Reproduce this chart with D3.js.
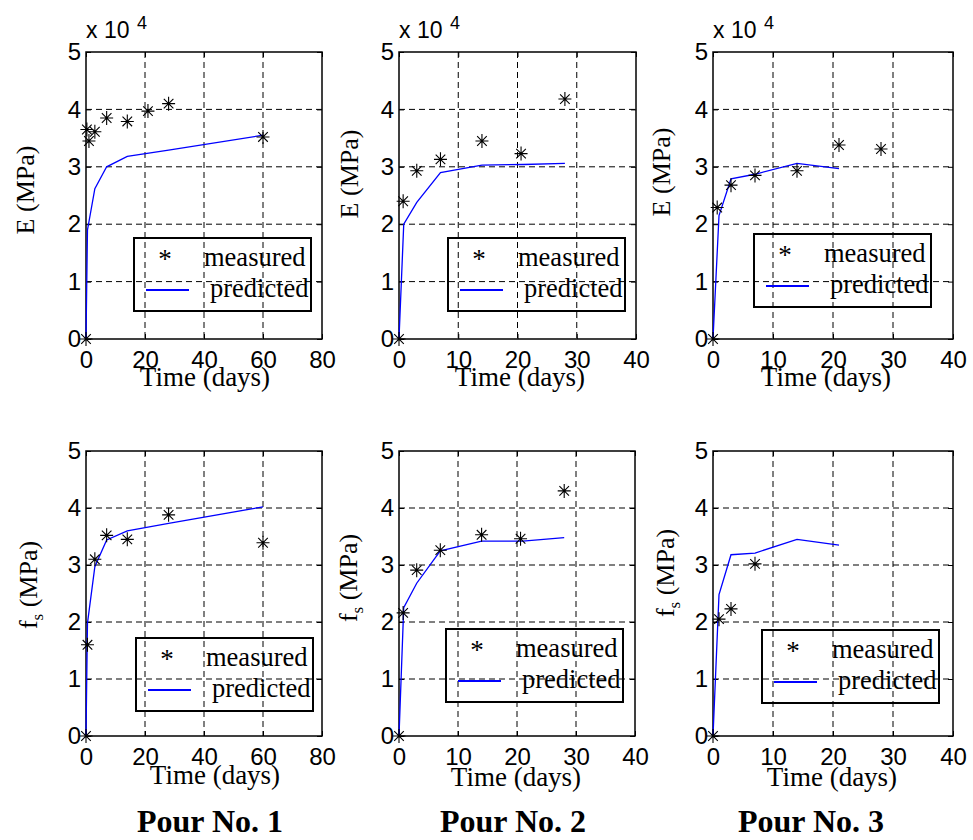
<!DOCTYPE html>
<html>
<head>
<meta charset="utf-8">
<script src="https://cdn.jsdelivr.net/npm/d3@7"></script>
<style>
  body { margin: 0; background: #fff; }
  .tick text { font-family: "Liberation Sans", Arial, sans-serif; font-size: 24px; fill: #000; }
  .tick line { stroke: #000; }
  .serif { font-family: "Liberation Serif", "Times New Roman", serif; fill: #000; }
</style>
</head>
<body>
<script>
// Pour No. 1 (E in 10^4 MPa, fs in MPa)
var measDays1 = [0, 0.3, 1, 3, 7, 14, 21, 28, 60];
var measE1 = [0, 3.65, 3.45, 3.61, 3.85, 3.79, 3.97, 4.10, 3.52];
var predDays1 = [0, 0.5, 3, 7, 14, 28, 60];
var predE1 = [0, 1.9, 2.62, 3.0, 3.18, 3.29, 3.55];
var measFsDays1 = [0, 0.5, 3, 7, 14, 28, 60];
var measFs1 = [0, 1.6, 3.1, 3.52, 3.45, 3.88, 3.39];
var predFs1 = [0, 1.98, 2.97, 3.44, 3.60, 3.73, 4.02];

// Pour No. 2
var measDays2 = [0, 0.7, 3, 7, 14, 20.6, 28];
var measE2 = [0, 2.40, 2.93, 3.13, 3.45, 3.23, 4.18];
var predDays2 = [0, 0.8, 3, 7, 14, 21, 28];
var predE2 = [0, 2.0, 2.38, 2.9, 3.03, 3.04, 3.06];
var measFs2 = [0, 2.16, 2.91, 3.26, 3.53, 3.46, 4.30];
var predFs2 = [0, 2.25, 2.68, 3.25, 3.42, 3.42, 3.48];

// Pour No. 3
var measDays3 = [0, 0.7, 3, 7, 14, 21, 28];
var measE3 = [0, 2.29, 2.68, 2.85, 2.93, 3.38, 3.31];
var predDays3 = [0, 1, 3, 7, 14, 21];
var predE3 = [0, 2.15, 2.79, 2.87, 3.06, 2.97];
var measFsDays3 = [0, 1, 3, 7];
var measFs3 = [0, 2.05, 2.23, 3.02];
var predFs3 = [0, 2.48, 3.18, 3.21, 3.45, 3.35];

var xTicks80 = [0, 20, 40, 60, 80];
var xTicks40 = [0, 10, 20, 30, 40];
var yTicks = [0, 1, 2, 3, 4, 5];
var titles = ["Pour No. 1", "Pour No. 2", "Pour No. 3"];

function zip(xs, ys) { return xs.map(function (d, i) { return [d, ys[i]]; }); }

var panels = [
  { l: 86, r: 322, t: 52, b: 339, xTicks: xTicks80, meas: zip(measDays1, measE1), pred: zip(predDays1, predE1),
    yLab: "E", ylx: 34, yly: 190, xlx: 205, xly: 386, leg: [134, 238], exp: true },
  { l: 399, r: 636, t: 52, b: 339, xTicks: xTicks40, meas: zip(measDays2, measE2), pred: zip(predDays2, predE2),
    yLab: "E", ylx: 358, yly: 174, xlx: 520, xly: 386, leg: [448, 238], exp: true },
  { l: 713, r: 953, t: 52, b: 339, xTicks: xTicks40, meas: zip(measDays3, measE3), pred: zip(predDays3, predE3),
    yLab: "E", ylx: 670, yly: 172, xlx: 826, xly: 386, leg: [754, 234], exp: true },
  { l: 86, r: 322, t: 451, b: 736, xTicks: xTicks80, meas: zip(measFsDays1, measFs1), pred: zip(predDays1, predFs1),
    yLab: "fs", ylx: 37, yly: 585, xlx: 215, xly: 784, leg: [136, 638], exp: false },
  { l: 399, r: 635, t: 451, b: 736, xTicks: xTicks40, meas: zip(measDays2, measFs2), pred: zip(predDays2, predFs2),
    yLab: "fs", ylx: 357, yly: 578, xlx: 516, xly: 786, leg: [446, 629], exp: false },
  { l: 713, r: 953, t: 451, b: 736, xTicks: xTicks40, meas: zip(measFsDays3, measFs3), pred: zip(predDays3, predFs3),
    yLab: "fs", ylx: 674, yly: 573, xlx: 832, xly: 786, leg: [762, 630], exp: false }
];

var svg = d3.select("body").append("svg")
    .attr("width", 973)
    .attr("height", 840);
svg.append("rect").attr("width", 973).attr("height", 840).attr("fill", "#fff");

var starPath = "M-6.5,0H6.5M0,-7V7M-4.8,-4.8L4.8,4.8M-4.8,4.8L4.8,-4.8";

panels.forEach(function (p) {
    var x = d3.scaleLinear().domain([p.xTicks[0], p.xTicks[p.xTicks.length - 1]]).range([p.l, p.r]);
    var y = d3.scaleLinear().domain([0, 5]).range([p.b, p.t]);
    var g = svg.append("g");

    // dashed grid
    g.selectAll("line.vgrid")
        .data(p.xTicks.slice(1, -1))
        .enter().append("line")
        .attr("x1", function (d) { return x(d); }).attr("x2", function (d) { return x(d); })
        .attr("y1", p.t).attr("y2", p.b)
        .attr("stroke", "#000").attr("stroke-width", 1).attr("stroke-dasharray", "6,4");
    g.selectAll("line.hgrid")
        .data(yTicks.slice(1, -1))
        .enter().append("line")
        .attr("y1", function (d) { return y(d); }).attr("y2", function (d) { return y(d); })
        .attr("x1", p.l).attr("x2", p.r)
        .attr("stroke", "#000").attr("stroke-width", 1).attr("stroke-dasharray", "6,4");

    // axes with inward ticks
    g.append("g").attr("transform", "translate(0," + p.b + ")")
        .call(d3.axisBottom(x).tickValues(p.xTicks).tickFormat(d3.format("d"))
            .tickSize(-5).tickSizeOuter(0).tickPadding(12));
    g.append("g").attr("transform", "translate(" + p.l + ",0)")
        .call(d3.axisLeft(y).tickValues(yTicks).tickFormat(d3.format("d"))
            .tickSize(-5).tickSizeOuter(0).tickPadding(5));
    g.append("g").attr("transform", "translate(0," + p.t + ")")
        .call(d3.axisTop(x).tickValues(p.xTicks).tickSize(-5).tickSizeOuter(0).tickFormat(""));
    g.append("g").attr("transform", "translate(" + p.r + ",0)")
        .call(d3.axisRight(y).tickValues(yTicks).tickSize(-5).tickSizeOuter(0).tickFormat(""));
    g.selectAll(".domain").remove();
    g.selectAll("g[font-size]").attr("font-size", null).attr("font-family", null);

    g.append("rect")
        .attr("x", p.l).attr("y", p.t)
        .attr("width", p.r - p.l).attr("height", p.b - p.t)
        .attr("fill", "none").attr("stroke", "#000").attr("stroke-width", 1.5);

    // predicted line
    var line = d3.line().x(function (d) { return x(d[0]); }).y(function (d) { return y(d[1]); });
    g.append("path").datum(p.pred)
        .attr("d", line)
        .attr("fill", "none").attr("stroke", "#0000ff").attr("stroke-width", 1.3);

    // measured stars
    g.selectAll("path.star")
        .data(p.meas)
        .enter().append("path")
        .attr("class", "star")
        .attr("d", starPath)
        .attr("transform", function (d) { return "translate(" + x(d[0]) + "," + y(d[1]) + ")"; })
        .attr("fill", "none").attr("stroke", "#000").attr("stroke-width", 1.1);

    // axis labels
    g.append("text").attr("class", "serif")
        .attr("x", p.xlx).attr("y", p.xly)
        .attr("text-anchor", "middle").attr("font-size", 27)
        .text("Time (days)");

    var yl = g.append("text").attr("class", "serif")
        .attr("text-anchor", "middle").attr("font-size", 26)
        .attr("transform", "translate(" + p.ylx + "," + p.yly + ") rotate(-90)");
    if (p.yLab === "E") {
        yl.text("E (MPa)");
    } else {
        yl.append("tspan").text("f");
        yl.append("tspan").attr("dy", 6).attr("font-size", 17).text("s");
        yl.append("tspan").attr("dy", -6).text(" (MPa)");
    }

    if (p.exp) {
        g.append("text")
            .attr("x", p.l).attr("y", 38)
            .attr("font-family", "Liberation Sans, Arial, sans-serif").attr("font-size", 23)
            .text("x 10");
        g.append("text")
            .attr("x", p.l + 51).attr("y", 29)
            .attr("font-family", "Liberation Sans, Arial, sans-serif").attr("font-size", 18)
            .text("4");
    }

    // legend
    var lg = g.append("g").attr("transform", "translate(" + p.leg[0] + "," + p.leg[1] + ")");
    lg.append("rect").attr("width", 177).attr("height", 73)
        .attr("fill", "none").attr("stroke", "#000").attr("stroke-width", 2);
    lg.append("text").attr("class", "serif")
        .attr("x", 31).attr("y", 30).attr("text-anchor", "middle").attr("font-size", 27)
        .text("*");
    lg.append("line").attr("x1", 12).attr("x2", 55).attr("y1", 52).attr("y2", 52)
        .attr("stroke", "#0000ff").attr("stroke-width", 2);
    lg.append("text").attr("class", "serif")
        .attr("x", 70).attr("y", 28).attr("font-size", 26.5)
        .text("measured");
    lg.append("text").attr("class", "serif")
        .attr("x", 76).attr("y", 59).attr("font-size", 26.5)
        .text("predicted");
});

var titleX = [210, 513, 811];
svg.selectAll("text.title")
    .data(titles)
    .enter().append("text")
    .attr("class", "title serif")
    .attr("x", function (d, i) { return titleX[i]; })
    .attr("y", 832)
    .attr("text-anchor", "middle")
    .attr("font-size", 32)
    .attr("font-weight", "bold")
    .text(function (d) { return d; });
</script>
</body>
</html>
